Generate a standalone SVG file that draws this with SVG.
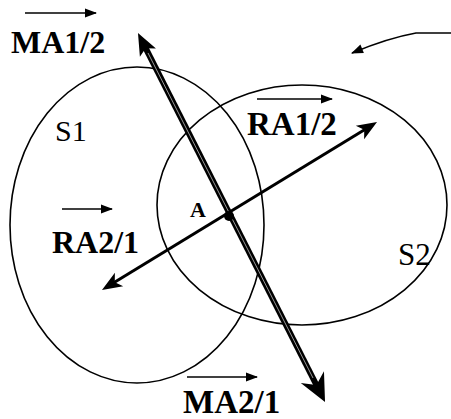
<svg xmlns="http://www.w3.org/2000/svg" width="451" height="419" viewBox="0 0 451 419">
<style>
.sh{fill:none;stroke:#000;stroke-width:1.6}
text{font-family:"Liberation Serif",serif;fill:#000}
.lb{font-weight:bold}
.ov{fill:none;stroke:#000;stroke-width:1.6}
</style>
<defs>
<marker id="sm" markerUnits="userSpaceOnUse" markerWidth="20" markerHeight="20" refX="0" refY="0" orient="auto" overflow="visible"><path d="M-11,-4.5 L1,0 L-11,4.5 Z" fill="#000"/></marker>
<marker id="mid" markerUnits="userSpaceOnUse" markerWidth="30" markerHeight="30" refX="0" refY="0" orient="auto-start-reverse" overflow="visible"><path d="M8,0 L-12,-8 L-7,0 L-12,8 Z" fill="#000"/></marker>
<marker id="top" markerUnits="userSpaceOnUse" markerWidth="40" markerHeight="40" refX="0" refY="0" orient="auto-start-reverse" overflow="visible"><path d="M10,0 L-12,-9 L-7,0 L-12,9 Z" fill="#000"/></marker>
<marker id="big" markerUnits="userSpaceOnUse" markerWidth="50" markerHeight="50" refX="0" refY="0" orient="auto" overflow="visible"><path d="M14,0 L-14,-13 L-5,0 L-14,13 Z" fill="#000"/></marker>
</defs>
<g id="S1"><ellipse class="sh" cx="137" cy="225" rx="127" ry="158"/><text x="55" y="141" font-size="30">S1</text></g>
<g id="S2"><ellipse class="sh" cx="302" cy="205" rx="145" ry="120"/><text x="398" y="265" font-size="31">S2</text></g>
<g id="connectors">
<path d="M108.8,285.8 L370.2,126.2" fill="none" stroke="#000" stroke-width="3" marker-start="url(#mid)" marker-end="url(#mid)"/>
<path d="M142.5,41.9 L318.7,389.5" fill="none" stroke="#000" stroke-width="6" marker-start="url(#top)" marker-end="url(#big)"/>
<path d="M148,53 L313,378" fill="none" stroke="#999" stroke-width="1"/>
<path d="M451,33 L416,33 Q388,38 352,53" class="ov" marker-end="url(#sm)"/>
</g>
<g id="A"><circle cx="229" cy="216" r="5" fill="#000"/><text class="lb" x="190" y="217" font-size="22">A</text></g>
<g id="MA12"><path d="M25,13 L96,13" class="ov" marker-end="url(#sm)"/><text class="lb" x="11" y="53" font-size="32">MA1/2</text></g>
<g id="RA12"><path d="M257,99 L332,99" class="ov" marker-end="url(#sm)"/><text class="lb" x="247" y="135" font-size="33">RA1/2</text></g>
<g id="RA21"><path d="M62,209 L112,209" class="ov" marker-end="url(#sm)"/><text class="lb" x="52" y="253" font-size="32">RA2/1</text></g>
<g id="MA21"><path d="M187,377 L257,377" class="ov" marker-end="url(#sm)"/><text class="lb" x="183" y="413" font-size="33">MA2/1</text></g>
</svg>
